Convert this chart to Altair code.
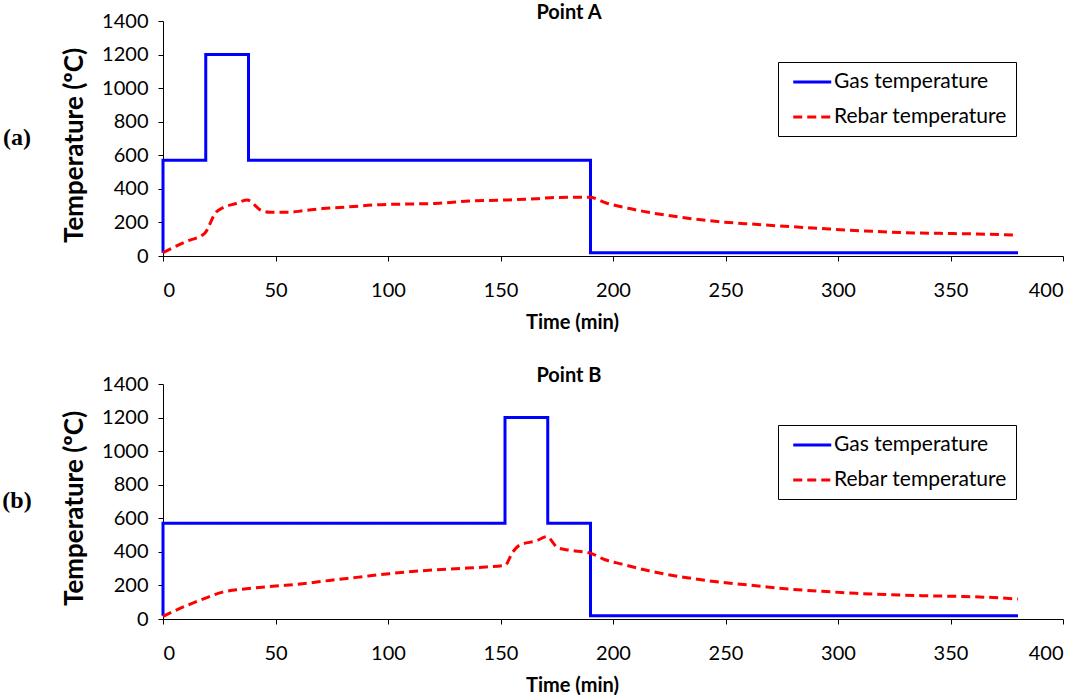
import altair as alt
import pandas as pd

# Point A: gas temperature step profile and rebar response
gas_a_time = [0, 0, 19, 19, 38, 38, 190, 190, 380]
gas_a_temp = [20, 570, 570, 1200, 1200, 570, 570, 20, 20]
rebar_a_time = [0, 10, 18.5, 23.5, 26.5, 32.5, 37.5, 43.5, 47.5, 56, 62, 71, 83, 95,
                106, 121, 136, 151, 166, 175, 189.5, 197, 208, 213.5, 230, 246.5,
                263, 279, 296, 312.5, 329, 345, 362, 380]
rebar_a_temp = [20, 85, 135, 260, 287, 313, 333, 273, 261, 261, 269, 283, 293, 305,
                309, 313, 327, 333, 341, 349, 350, 316, 281, 266, 231, 205,
                189, 175, 161, 149, 139, 135, 131, 124]

# Point B: gas temperature step profile and rebar response
gas_b_time = [0, 0, 152, 152, 171, 171, 190, 190, 380]
gas_b_temp = [20, 570, 570, 1200, 1200, 570, 570, 20, 20]
rebar_b_time = [0, 10.5, 18, 26.5, 37, 50, 62, 74, 86, 100.5, 115.5, 130, 143.5, 152,
                155.5, 158.5, 166, 170.5, 175.5, 180.5, 189.5, 196.5, 204, 219, 234,
                248.5, 263.5, 278, 293, 308, 323, 337.5, 352, 367, 380]
rebar_b_temp = [16, 80, 120, 160, 180, 196, 210, 230, 248, 270, 288, 300, 310, 320,
                400, 440, 466, 490, 424, 410, 394, 353, 327, 278, 244,
                218, 198, 178, 165, 153, 145, 139, 135, 129, 119]

series_names = ["Gas temperature", "Rebar temperature"]
panel_titles = ["Point A", "Point B"]
panel_tags = ["(a)", "(b)"]
x_ticks = list(range(0, 401, 50))
y_ticks = list(range(0, 1401, 200))

FONT = "Lato"
W, H = 900, 235


def frame(times, temps, name):
    return pd.DataFrame({"time": times, "temp": temps, "series": name,
                         "i": list(range(len(times)))})


def panel(title, tag, gt, gv, rt, rv):
    df = pd.concat([frame(gt, gv, series_names[0]), frame(rt, rv, series_names[1])])
    # long horizontal stroke symbol, set in from the legend's left edge
    legend = alt.Legend(
        title=None, orient="none", legendX=615, legendY=41,
        symbolType="M-0.5,0H3.5", symbolSize=361, symbolStrokeWidth=3,
        labelFont=FONT, labelFontSize=21, labelColor="black", labelOffset=25,
        labelLimit=400, strokeColor="black", fillColor="white", padding=9,
        rowPadding=14,
    )
    enc = dict(
        x=alt.X("time:Q", scale=alt.Scale(domain=[0, 400], nice=False),
                axis=alt.Axis(values=x_ticks, format="d", title="Time (min)",
                              titleX=409, labelPadding=19, titlePadding=12,
                              titleFontSize=20)),
        y=alt.Y("temp:Q", scale=alt.Scale(domain=[0, 1400], nice=False),
                axis=alt.Axis(values=y_ticks, format="d", title="Temperature (ºC)",
                              labelPadding=10, titlePadding=14, titleFontSize=26,
                              titleY=124)),
        color=alt.Color("series:N", scale=alt.Scale(domain=series_names,
                                                     range=["#0000FF", "#FF0000"]),
                        legend=legend),
        strokeDash=alt.StrokeDash("series:N", scale=alt.Scale(domain=series_names,
                                                               range=[[1, 0], [9, 5]]),
                                  legend=legend),
        order="i:Q",
    )
    base = alt.Chart(df)
    gas = base.transform_filter(alt.datum.series == series_names[0]).mark_line(
        strokeWidth=3, interpolate="linear").encode(**enc)
    rebar = base.transform_filter(alt.datum.series == series_names[1]).mark_line(
        strokeWidth=3, interpolate="monotone").encode(**enc)
    label = alt.Chart(pd.DataFrame({"tag": [tag]})).mark_text(
        font="Liberation Serif", fontSize=24, fontWeight="bold", color="black",
        align="center", baseline="middle",
    ).encode(x=alt.value(-146), y=alt.value(117), text="tag:N")
    return alt.layer(gas, rebar, label).properties(
        width=W, height=H,
        title=alt.TitleParams(title, font=FONT, fontSize=20, fontWeight="bold",
                              color="black", anchor="middle", dx=-44, offset=-12),
    )


chart_a = panel(panel_titles[0], panel_tags[0], gas_a_time, gas_a_temp,
                rebar_a_time, rebar_a_temp)
chart_b = panel(panel_titles[1], panel_tags[1], gas_b_time, gas_b_temp,
                rebar_b_time, rebar_b_temp)

chart = alt.vconcat(chart_a, chart_b, spacing=34).resolve_scale(
    color="independent", strokeDash="independent"
).properties(
    padding={"left": 2, "top": 3, "right": 5, "bottom": 0},
    background="white",
).configure_view(stroke=None).configure_axis(
    grid=False, domainColor="black", domainWidth=1, tickColor="black", tickSize=5,
    labelFont=FONT, labelFontSize=20, labelColor="black",
    titleFont=FONT, titleFontWeight="bold", titleColor="black",
)

chart.save("out.html", embed_options={"renderer": "svg", "actions": False})
